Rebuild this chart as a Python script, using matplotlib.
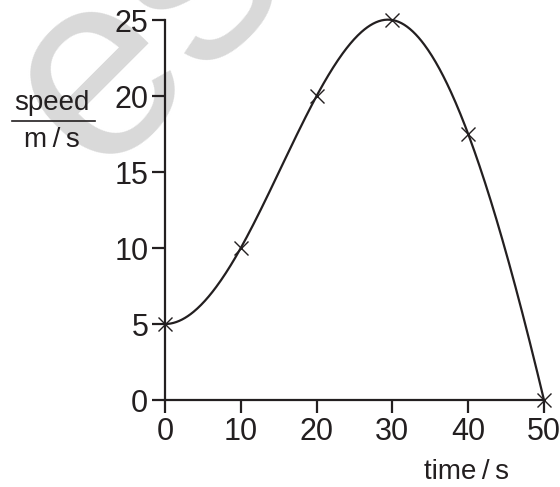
import numpy as np
import matplotlib
matplotlib.use("Agg")
import matplotlib.pyplot as plt

# dados
time_s = [0, 10, 20, 30, 40, 50]
speed_ms = [5, 10, 20, 25, 17.5, 0]
x_ticks = [0, 10, 20, 30, 40, 50]
y_ticks = [0, 5, 10, 15, 20, 25]

plt.rcParams["font.family"] = ["Liberation Sans", "DejaVu Sans"]
INK = "#231f20"


def smooth_curve(x, y, n=400):
    """Spline cúbica: inclinação zero no início, 'not-a-knot' no fim."""
    x = np.asarray(x, float)
    y = np.asarray(y, float)
    m = len(x)
    h = np.diff(x)
    A = np.zeros((m, m))
    b = np.zeros(m)
    A[0, 0] = 2 * h[0]
    A[0, 1] = h[0]
    b[0] = 6 * ((y[1] - y[0]) / h[0] - 0.0)
    for i in range(1, m - 1):
        A[i, i - 1] = h[i - 1]
        A[i, i] = 2 * (h[i - 1] + h[i])
        A[i, i + 1] = h[i]
        b[i] = 6 * ((y[i + 1] - y[i]) / h[i] - (y[i] - y[i - 1]) / h[i - 1])
    A[-1, -3] = h[-1]
    A[-1, -2] = -(h[-1] + h[-2])
    A[-1, -1] = h[-2]
    M = np.linalg.solve(A, b)
    xs = np.linspace(x[0], x[-1], n)
    idx = np.clip(np.searchsorted(x, xs) - 1, 0, m - 2)
    x0, x1 = x[idx], x[idx + 1]
    hh = x1 - x0
    t0, t1 = x1 - xs, xs - x0
    ys = (M[idx] * t0 ** 3 + M[idx + 1] * t1 ** 3) / (6 * hh) \
        + (y[idx] / hh - M[idx] * hh / 6) * t0 \
        + (y[idx + 1] / hh - M[idx + 1] * hh / 6) * t1
    return xs, ys


fig = plt.figure(figsize=(5.6, 4.87), dpi=100)
fig.patch.set_facecolor("white")

# marca d'água (fica atrás de tudo)
fig.text(-0.07, 0.56, "es", fontsize=190, color="#d9d9d9", rotation=45,
         ha="left", va="bottom", zorder=-1)

ax = fig.add_axes([0.2946, 0.1786, 0.6768, 0.7803])
ax.set_facecolor("none")

xs, ys = smooth_curve(time_s, speed_ms)
ax.plot(xs, ys, color=INK, lw=1.6, clip_on=False, zorder=3)
ax.plot(time_s, speed_ms, "x", color=INK, ms=10, mew=1.0, clip_on=False, zorder=4)

ax.set_xlim(0, 50)
ax.set_ylim(0, 25)
ax.set_xticks(x_ticks)
ax.set_yticks(y_ticks)
for side in ("top", "right"):
    ax.spines[side].set_visible(False)
for side in ("left", "bottom"):
    ax.spines[side].set_linewidth(1.6)
    ax.spines[side].set_color(INK)
ax.tick_params(direction="out", length=9.5, width=1.6, color=INK,
               labelsize=22, labelcolor=INK, pad=2.5)

# rótulos dos eixos
fig.text(52 / 560, 1 - 103 / 487, "speed", fontsize=20, color=INK, ha="center", va="center")
fig.add_artist(plt.Line2D([12 / 560, 95 / 560], [1 - 121 / 487, 1 - 121 / 487],
                          color=INK, lw=1.2))
fig.text(52 / 560, 1 - 140 / 487, "m\u2009/\u2009s", fontsize=20, color=INK,
         ha="center", va="center")
fig.text(467 / 560, 1 - 472 / 487, "time\u2009/\u2009s", fontsize=20, color=INK,
         ha="center", va="center")

fig.savefig("out.png", dpi=100)
